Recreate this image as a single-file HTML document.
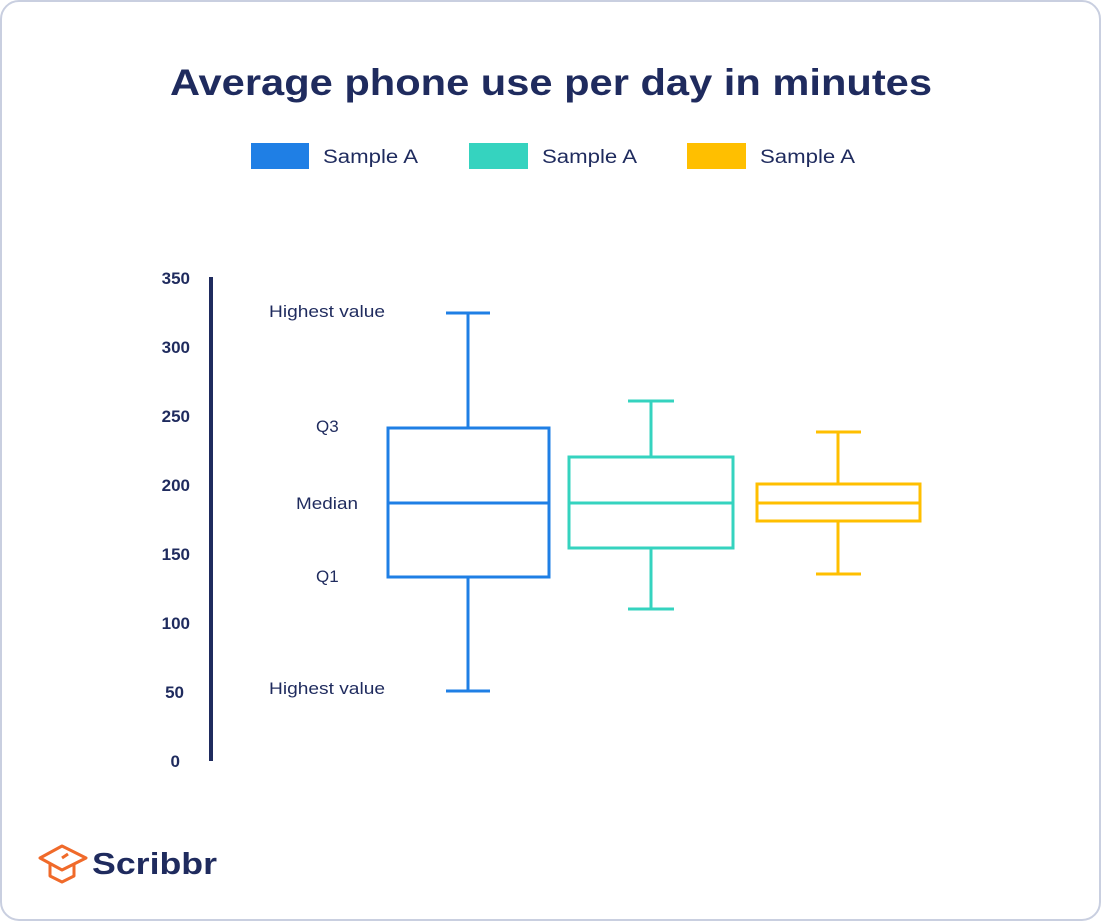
<!DOCTYPE html>
<html><head><meta charset="utf-8"><style>
body{margin:0;background:#fff;}
svg{display:block;font-family:"Liberation Sans",sans-serif;}
</style></head><body>
<svg width="1101" height="922" viewBox="0 0 1101 922">
<rect x="1" y="1" width="1099" height="919" rx="18" fill="#fff" stroke="#c9cfe0" stroke-width="2"/>
<text x="170" y="95" font-size="37" font-weight="bold" fill="#1f2b5e" textLength="762" lengthAdjust="spacingAndGlyphs">Average phone use per day in minutes</text>
<g font-size="19" fill="#1f2b5e">
<rect x="251" y="143" width="58" height="26" fill="#1f7fe5"/><text x="323" y="163" textLength="95" lengthAdjust="spacingAndGlyphs">Sample A</text>
<rect x="469" y="143" width="59" height="26" fill="#35d3bf"/><text x="542" y="163" textLength="95" lengthAdjust="spacingAndGlyphs">Sample A</text>
<rect x="687" y="143" width="59" height="26" fill="#ffbf00"/><text x="760" y="163" textLength="95" lengthAdjust="spacingAndGlyphs">Sample A</text>
</g>
<line x1="211" y1="277" x2="211" y2="761" stroke="#1f2b5e" stroke-width="4"/>
<g font-size="17" font-weight="bold" fill="#1f2b5e" text-anchor="end">
<text x="190" y="284">350</text><text x="190" y="353">300</text><text x="190" y="422">250</text><text x="190" y="491">200</text><text x="190" y="560">150</text><text x="190" y="629">100</text><text x="184" y="698">50</text><text x="180" y="767">0</text>
</g>
<g font-size="17" fill="#1f2b5e">
<text x="269" y="317" textLength="116" lengthAdjust="spacingAndGlyphs">Highest value</text>
<text x="316" y="432">Q3</text>
<text x="296" y="509" textLength="62" lengthAdjust="spacingAndGlyphs">Median</text>
<text x="316" y="582">Q1</text>
<text x="269" y="694" textLength="116" lengthAdjust="spacingAndGlyphs">Highest value</text>
</g>
<g fill="none" stroke-width="3">
<g stroke="#1f7fe5">
<rect x="388" y="428" width="161" height="149"/><line x1="388" y1="503" x2="549" y2="503"/>
<line x1="468" y1="313" x2="468" y2="428"/><line x1="446" y1="313" x2="490" y2="313"/>
<line x1="468" y1="577" x2="468" y2="691"/><line x1="446" y1="691" x2="490" y2="691"/>
</g>
<g stroke="#35d3bf">
<rect x="569" y="457" width="164" height="91"/><line x1="569" y1="503" x2="733" y2="503"/>
<line x1="651" y1="401" x2="651" y2="457"/><line x1="628" y1="401" x2="674" y2="401"/>
<line x1="651" y1="548" x2="651" y2="609"/><line x1="628" y1="609" x2="674" y2="609"/>
</g>
<g stroke="#ffbf00">
<rect x="757" y="484" width="163" height="37"/><line x1="757" y1="503" x2="920" y2="503"/>
<line x1="838" y1="432" x2="838" y2="484"/><line x1="816" y1="432" x2="861" y2="432"/>
<line x1="838" y1="521" x2="838" y2="574"/><line x1="816" y1="574" x2="861" y2="574"/>
</g>
</g>
<g fill="none" stroke="#f06a2a" stroke-width="3" stroke-linejoin="round">
<path d="M40 858 L62 846 L86 858 L62 870 Z"/>
<path d="M50 864 L50 876 L62 882 L74 876 L74 864"/>
<path d="M62 858 L68 854"/>
</g>
<text x="92" y="874" font-size="31" font-weight="bold" fill="#1f2b5e" textLength="125" lengthAdjust="spacingAndGlyphs">Scribbr</text>
</svg>
</body></html>
